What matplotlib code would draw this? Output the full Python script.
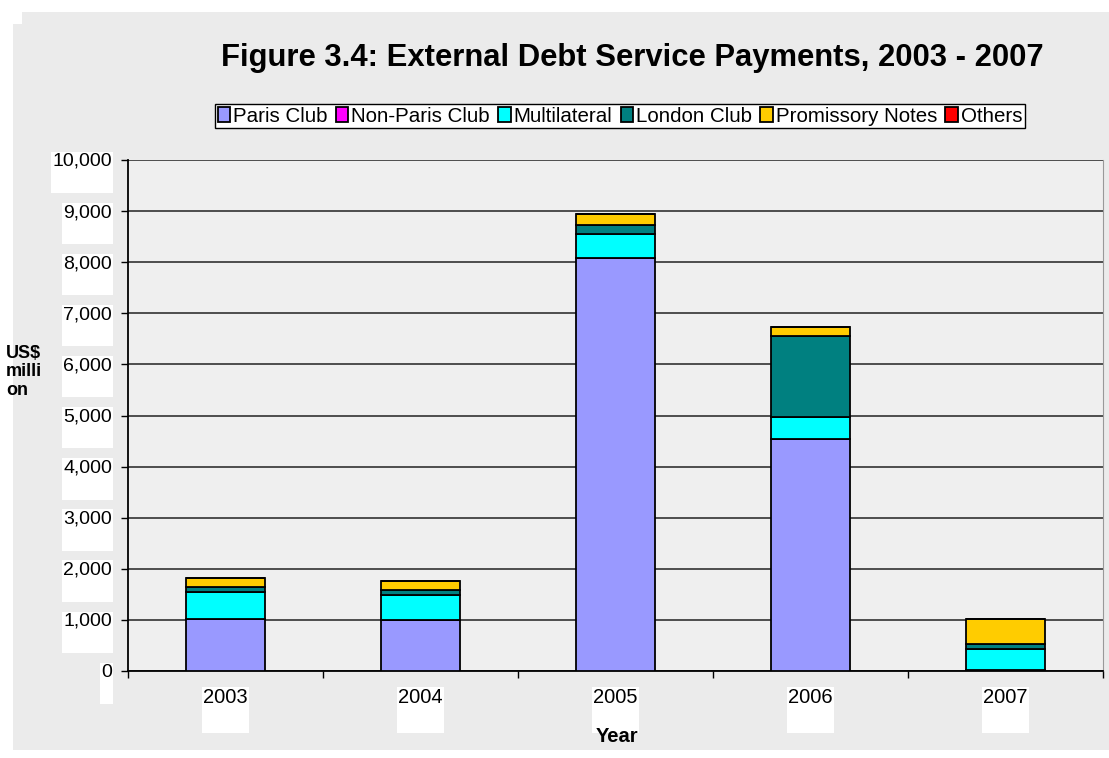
import numpy as np
import matplotlib.pyplot as plt
from matplotlib.patches import Polygon
from matplotlib.transforms import offset_copy

plt.rcParams['font.family'] = ['Liberation Sans', 'DejaVu Sans']

years = ['2003', '2004', '2005', '2006', '2007']
series = ['Paris Club', 'Non-Paris Club', 'Multilateral', 'London Club',
          'Promissory Notes', 'Others']
paris_club = [1025, 995, 8075, 4535, 15]
non_paris_club = [0, 0, 0, 0, 0]
multilateral = [520, 495, 478, 435, 415]
london_club = [95, 88, 175, 1585, 95]
promissory_notes = [175, 190, 215, 180, 490]
others = [0, 0, 0, 0, 0]
colors = ['#9999FF', '#FF00FF', '#00FFFF', '#008080', '#FFCC00', '#FF0000']
yticks = list(range(0, 10001, 1000))

values = [paris_club, non_paris_club, multilateral, london_club,
          promissory_notes, others]

fig = plt.figure(figsize=(11.09, 7.58), dpi=100)
fig.patch.set_facecolor('white')

# chart area panel
W, H = 1109, 758
pts = [(13, 24), (22, 24), (22, 12), (1109, 12), (1109, 750), (13, 750)]
fig.patches.append(Polygon([(x / W, 1 - y / H) for x, y in pts], closed=True,
                           transform=fig.transFigure, facecolor='#ebebeb',
                           edgecolor='none', zorder=-5))

ax = fig.add_axes([128 / W, 1 - 671 / H, (1103 - 128) / W, (671 - 160) / H])
ax.set_facecolor('#efefef')

x = np.arange(len(years))
bottom = np.zeros(len(years))
for name, vals, col in zip(series, values, colors):
    vals = np.array(vals, dtype=float)
    ax.bar(x, vals, width=0.405, bottom=bottom, color=col, edgecolor='black',
           linewidth=1.3, label=name, zorder=3)
    bottom += vals

ax.set_xlim(-0.5, len(years) - 0.5)
ax.set_ylim(0, 10000)
ax.set_yticks(yticks)
ax.yaxis.grid(True, color='#222222', linewidth=1.1, zorder=1)
ax.set_axisbelow(True)
ax.set_xticks(np.arange(-0.5, len(years), 1.0))
ax.tick_params(axis='both', direction='out', length=5, width=1,
               labelleft=False, labelbottom=False)
ax.spines['top'].set_visible(False)
ax.spines['right'].set_color('#999999')
ax.spines['left'].set_linewidth(1.3)
ax.spines['bottom'].set_linewidth(1.3)

# tick labels sit on white boxes
box = dict(facecolor='white', edgecolor='none', pad=1)
ytr = offset_copy(ax.get_yaxis_transform(), fig=fig, x=-16, y=7, units='dots')
for v in yticks:
    ax.text(0, v, f'{v:,}\n ', transform=ytr, ha='right', va='top',
            fontsize=14, bbox=box, linespacing=1.35, clip_on=False)
xtr = offset_copy(ax.get_xaxis_transform(), fig=fig, x=0, y=-17, units='dots')
for i, yr in enumerate(years):
    ax.text(i, 0, f'{yr}\n ', transform=xtr, ha='center', va='top',
            fontsize=14.5, bbox=box, linespacing=1.4, clip_on=False)

fig.text(617 / W, 1 - 736 / H, 'Year', ha='center', va='center',
         fontsize=14.5, fontweight='bold')
fig.text(6 / W, 1 - 372 / H, 'US$\nmilli\non', ha='left', va='center',
         fontsize=13, fontweight='bold', linespacing=1.1)
fig.text(632 / W, 1 - 58 / H,
         'Figure 3.4: External Debt Service Payments, 2003 - 2007',
         ha='center', va='center', fontsize=22.3, fontweight='bold')

leg = fig.legend(loc='center', bbox_to_anchor=(620 / W, 1 - 116 / H), ncol=6,
                 fontsize=14.8, frameon=True, fancybox=False, framealpha=1,
                 edgecolor='black', handlelength=0.6, handleheight=0.75,
                 handletextpad=0.15, columnspacing=0.4, borderpad=0.12,
                 borderaxespad=0)
leg.get_frame().set_linewidth(1.0)

fig.savefig('out.png', dpi=100)
